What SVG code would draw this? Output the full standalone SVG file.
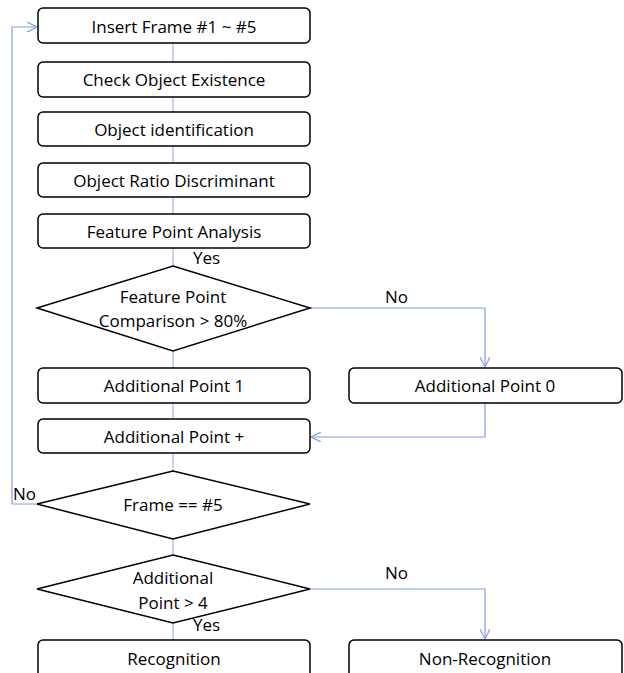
<svg xmlns="http://www.w3.org/2000/svg" width="624" height="673" viewBox="0 0 624 673">
<defs>
<style>
.box{fill:#fff;stroke:#000;stroke-width:1.5}
.t{font-family:"Open Sans","Liberation Sans",sans-serif;font-size:17px;fill:#000;text-anchor:middle;dominant-baseline:central}
.l{font-family:"Open Sans","Liberation Sans",sans-serif;font-size:17px;fill:#000;dominant-baseline:central}
.c{fill:none;stroke:#7f9fe0;stroke-width:1.2}
.cl{fill:none;stroke:#9fb6e3;stroke-width:1.2}
</style>
<marker id="ah" viewBox="0 0 10 10" refX="10" refY="5" markerWidth="10" markerHeight="10" markerUnits="userSpaceOnUse" orient="auto">
<path d="M0,0 L10,5 L0,10" fill="none" stroke="#7f9fe0" stroke-width="1.2"/>
</marker>
</defs>
<rect width="624" height="673" fill="#fff"/>
<g id="connectors">
<line class="cl" x1="173" y1="43" x2="173" y2="62"/>
<line class="cl" x1="173" y1="97" x2="173" y2="112"/>
<line class="cl" x1="173" y1="146" x2="173" y2="163"/>
<line class="cl" x1="173" y1="197" x2="173" y2="214"/>
<line class="cl" x1="173" y1="248" x2="173" y2="266"/>
<line class="cl" x1="173" y1="351" x2="173" y2="368"/>
<line class="cl" x1="173" y1="403" x2="173" y2="419"/>
<line class="cl" x1="173" y1="453" x2="173" y2="471"/>
<line class="cl" x1="173" y1="539" x2="173" y2="555"/>
<line class="cl" x1="173" y1="623" x2="173" y2="640"/>
<polyline class="c" points="310,308 485,308 485,367" marker-end="url(#ah)"/>
<polyline class="c" points="485,403 485,437 311,437" marker-end="url(#ah)"/>
<polyline class="c" points="37,504 12,504 12,27 37,27" marker-end="url(#ah)"/>
<polyline class="c" points="310,589 485,589 485,639" marker-end="url(#ah)"/>
<text class="l" x="193" y="257">Yes</text>
<text class="l" x="385" y="296">No</text>
<text class="l" x="13" y="493">No</text>
<text class="l" x="193" y="624">Yes</text>
<text class="l" x="385" y="572">No</text>
</g>
<g id="n1"><rect class="box" x="38" y="8" width="272" height="35" rx="5"/><text class="t" x="174" y="26">Insert Frame #1 ~ #5</text></g>
<g id="n2"><rect class="box" x="38" y="62" width="272" height="35" rx="5"/><text class="t" x="174" y="79">Check Object Existence</text></g>
<g id="n3"><rect class="box" x="38" y="112" width="272" height="34" rx="5"/><text class="t" x="174" y="129">Object identification</text></g>
<g id="n4"><rect class="box" x="38" y="163" width="272" height="34" rx="5"/><text class="t" x="174" y="180">Object Ratio Discriminant</text></g>
<g id="n5"><rect class="box" x="38" y="214" width="272" height="34" rx="5"/><text class="t" x="174" y="231">Feature Point Analysis</text></g>
<g id="d1"><polygon class="box" points="173,266 310,308 173,351 37,308"/><text class="t" x="173" y="296">Feature Point</text><text class="t" x="173" y="320">Comparison &gt; 80%</text></g>
<g id="n6"><rect class="box" x="38" y="368" width="272" height="35" rx="5"/><text class="t" x="174" y="385">Additional Point 1</text></g>
<g id="n7"><rect class="box" x="349" y="368" width="273" height="35" rx="5"/><text class="t" x="485" y="385">Additional Point 0</text></g>
<g id="n8"><rect class="box" x="38" y="419" width="272" height="34" rx="5"/><text class="t" x="174" y="436">Additional Point +</text></g>
<g id="d2"><polygon class="box" points="173,471 310,504 173,539 37,504"/><text class="t" x="173" y="504">Frame == #5</text></g>
<g id="d3"><polygon class="box" points="173,555 310,589 173,623 37,589"/><text class="t" x="173" y="577">Additional</text><text class="t" x="173" y="602">Point &gt; 4</text></g>
<g id="n9"><rect class="box" x="38" y="640" width="272" height="40" rx="5"/><text class="t" x="174" y="658">Recognition</text></g>
<g id="n10"><rect class="box" x="349" y="640" width="273" height="40" rx="5"/><text class="t" x="485" y="658">Non-Recognition</text></g>
</svg>
